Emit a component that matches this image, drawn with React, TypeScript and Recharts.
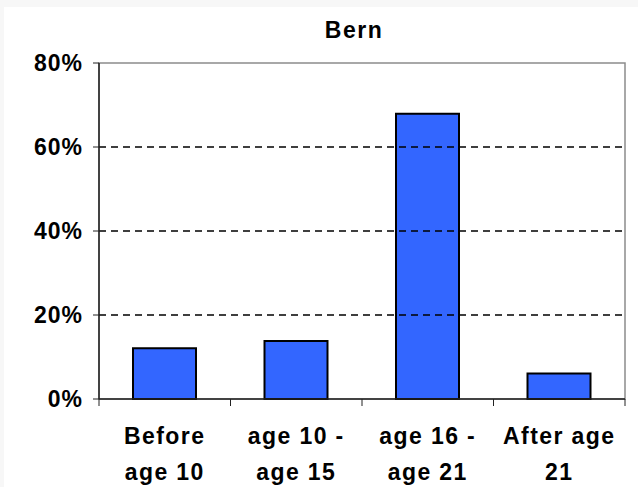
import React from "react";
import { BarChart, Bar, XAxis, YAxis, ReferenceLine, ReferenceArea } from "recharts";

const categories = ["Before age 10", "age 10 - age 15", "age 16 - age 21", "After age 21"];
const labelLines = [
  ["Before", "age 10"],
  ["age 10 -", "age 15"],
  ["age 16 -", "age 21"],
  ["After age", "21"],
];
const shares = [12.1, 13.8, 67.9, 6.1];
const yTicks = [0, 20, 40, 60, 80];
const gridValues = [20, 40, 60];
const title = "Bern";

const data = categories.map((c, i) => ({ name: c, value: shares[i], idx: i }));

const W = 638;
const H = 487;
const PLOT_LEFT = 99;
const PLOT_RIGHT = 625;
const HALF_BAND = (PLOT_RIGHT - PLOT_LEFT) / categories.length / 2;
const FONT = "'Liberation Sans', Arial, sans-serif";
const AXIS = "#222";

const XTick = (props: any) => {
  const { x, y, payload, index } = props;
  const lines = labelLines[categories.indexOf(payload.value)] || [payload.value];
  return (
    <g>
      <line x1={x - HALF_BAND} y1={y} x2={x - HALF_BAND} y2={y + 7} stroke={AXIS} strokeWidth={1} />
      {index === categories.length - 1 && (
        <line x1={x + HALF_BAND} y1={y} x2={x + HALF_BAND} y2={y + 7} stroke={AXIS} strokeWidth={1} />
      )}
      {lines.map((l: string, i: number) => (
        <text
          key={i}
          x={x}
          y={y + 45 + i * 36}
          textAnchor="middle"
          fontFamily={FONT}
          fontWeight="bold"
          fontSize={23}
          letterSpacing={1.4}
          fill="#000"
        >
          {l}
        </text>
      ))}
    </g>
  );
};

export default function App() {
  return (
    <div style={{ position: "fixed", left: 0, top: 0, width: W, height: H, background: "#F7F7F7" }}>
      <div style={{ position: "absolute", left: 4, top: 7, right: 0, bottom: 0, background: "#FFFFFF" }} />
      <div
        style={{
          position: "absolute",
          left: 254,
          width: 200,
          top: 17,
          textAlign: "center",
          fontFamily: FONT,
          fontWeight: "bold",
          fontSize: 23,
          letterSpacing: 1.5,
          lineHeight: "27px",
          color: "#000",
        }}
      >
        {title}
      </div>
      <div style={{ position: "absolute", left: 0, top: 0 }}>
        <BarChart width={W} height={H} data={data} margin={{ top: 63, right: W - PLOT_RIGHT, left: 0, bottom: 0 }}>
          <ReferenceArea y1={0} y2={80} fill="none" stroke="#8c8c8c" strokeWidth={1.5} ifOverflow="visible" />
          {gridValues.map((v) => (
            <ReferenceLine key={v} y={v} stroke="#000" strokeWidth={1.4} strokeDasharray="7 5" />
          ))}
          <XAxis
            dataKey="name"
            height={88}
            axisLine={{ stroke: AXIS, strokeWidth: 1.5 }}
            tickLine={false}
            tickSize={0}
            tickMargin={0}
            interval={0}
            tick={<XTick />}
          />
          <YAxis
            width={PLOT_LEFT}
            domain={[0, 80]}
            ticks={yTicks}
            interval={0}
            tickFormatter={(v: number) => `${v}%`}
            axisLine={{ stroke: AXIS, strokeWidth: 1.5 }}
            tickLine={{ stroke: AXIS }}
            tickSize={6}
            tickMargin={10}
            tick={{ fontFamily: FONT, fontWeight: "bold", fontSize: 23, fill: "#000", letterSpacing: 1 }}
          />
          <Bar dataKey="value" fill="#3366FF" stroke="#000" strokeWidth={2} barSize={63} isAnimationActive={false} />
        </BarChart>
      </div>
    </div>
  );
}
